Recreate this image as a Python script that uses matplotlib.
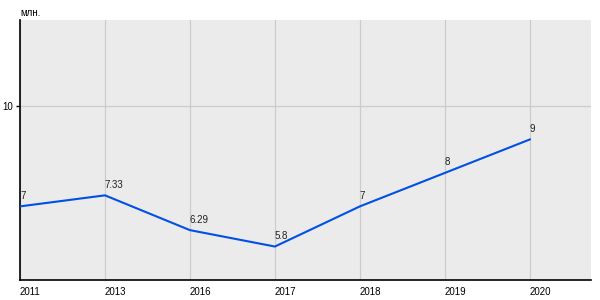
import matplotlib
matplotlib.use('Agg')
import matplotlib.pyplot as plt

# Datos
years = ['2011', '2013', '2016', '2017', '2018', '2019', '2020']
values = [7, 7.33, 6.29, 5.8, 7, 8, 9]
value_labels = ['7', '7.33', '6.29', '5.8', '7', '8', '9']
unit_label = 'млн.'

plt.rcParams['font.family'] = ['Liberation Sans', 'DejaVu Sans']

fig = plt.figure(figsize=(6, 3), dpi=100)
ax = fig.add_axes([20 / 600, 20 / 300, 571 / 600, 260 / 300])
ax.set_facecolor('#ebebeb')

x = list(range(len(years)))
ax.plot(x, values, color='#0050e6', linewidth=1.5, zorder=3)

# Etiquetas de valores sobre cada punto
for xi, v, lab in zip(x, values, value_labels):
    ax.annotate(lab, (xi, v), xytext=(0, 4), textcoords='offset points',
                ha='left', va='bottom', fontsize=7, color='#222222')

ax.set_xlim(0, 6.72)
ax.set_ylim(4.8, 12.57)

ax.set_xticks(x)
ax.set_xticklabels(years, fontsize=7, ha='left')
ax.tick_params(axis='x', length=0, pad=5)
ax.set_yticks([10])
ax.set_yticklabels(['10'], fontsize=7)
ax.tick_params(axis='y', length=3, width=1, pad=2)

ax.grid(True, color='#cccccc', linewidth=0.9, zorder=1)
ax.set_axisbelow(True)

for side in ['top', 'right']:
    ax.spines[side].set_visible(False)
for side in ['left', 'bottom']:
    ax.spines[side].set_color('black')
    ax.spines[side].set_linewidth(1.2)

fig.text(20 / 600, 1 - 13 / 300, unit_label, fontsize=7, ha='left', va='center')

fig.savefig('out.png', dpi=100)
